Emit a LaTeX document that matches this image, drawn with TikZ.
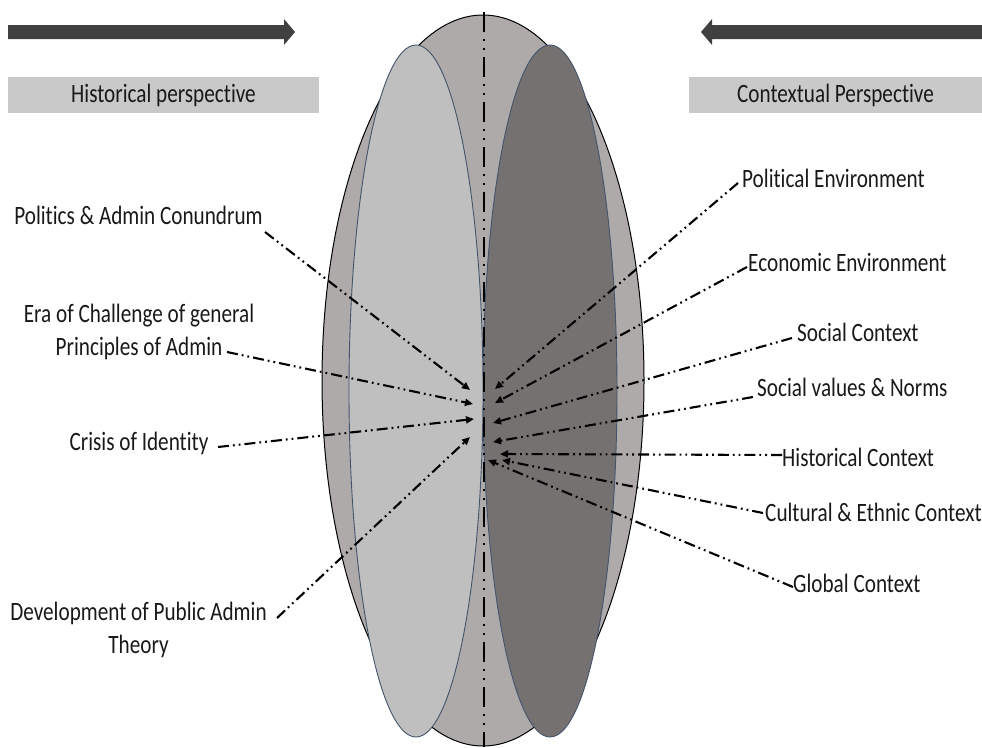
\documentclass[tikz,border=0pt]{standalone}
\usepackage{fontspec}
\setmainfont{Carlito}[FakeStretch=0.8, Ligatures=NoCommon]
\usetikzlibrary{arrows.meta,calc}
\definecolor{outerg}{HTML}{AEAAAA}
\definecolor{lightg}{HTML}{BFBFBF}
\definecolor{darkg}{HTML}{767171}
\definecolor{edgeb}{HTML}{44546A}
\definecolor{boxg}{HTML}{C9C9C9}
\definecolor{arrg}{HTML}{404040}
\begin{document}
\begin{tikzpicture}[x=1pt,y=-1pt,
  lbl/.style={font=\fontsize{26.5}{33}\selectfont, inner sep=1pt, align=center, text=black!90},
  pbox/.style={fill=boxg, minimum height=36pt, inner sep=0pt, font=\fontsize{26.5}{30}\selectfont, text=black!90},
  ddline/.style={line width=2.1pt, dash pattern=on 11pt off 4pt on 1.8pt off 4pt on 1.8pt off 4pt,
    -{Triangle[length=8pt,width=7pt]}},
  bigarrow/.style={fill=arrg, draw=none},
  ]
\useasboundingbox (0,0) rectangle (982,747);

% perspective arrows
\fill[bigarrow] (8,25) -- (284,25) -- (284,19) -- (295,32) -- (284,45) -- (284,39) -- (8,39) -- cycle;
\fill[bigarrow] (982,25) -- (712,25) -- (712,19) -- (701,32) -- (712,45) -- (712,39) -- (982,39) -- cycle;

% perspective boxes
\node[pbox, minimum width=311pt] (hp) at (163.5,95) {Historical perspective};
\node[pbox, minimum width=293pt] (cp) at (835.5,95) {Contextual Perspective};

% ellipses
\fill[outerg, draw=black, line width=1pt] (483,380.5) ellipse [x radius=161pt, y radius=365.5pt];
\fill[darkg, draw=edgeb, line width=0.9pt] (550,391) ellipse [x radius=67pt, y radius=346pt];
\fill[lightg, draw=edgeb, line width=0.9pt] (416,391) ellipse [x radius=67pt, y radius=346pt];

% centre line
\coordinate (ctop) at (484,12);
\coordinate (cbot) at (484,747);
\draw[line width=2pt, dash pattern=on 20pt off 7pt on 2pt off 7pt on 2pt off 7pt] (ctop) -- (cbot);

% left labels
\node[lbl] (pol) at (138.5,215) {Politics \& Admin Conundrum};
\node[lbl] (era) at (139,331.5) {Era of Challenge of general\\Principles of Admin};
\node[lbl] (cri) at (139,443) {Crisis of Identity};
\node[lbl] (dev) at (138.5,630) {Development of Public Admin\\Theory};

% right labels
\node[lbl, anchor=west] (pe) at (741,178) {Political Environment};
\node[lbl, anchor=west] (ee) at (747,262) {Economic Environment};
\node[lbl, anchor=west] (sc) at (796,332) {Social Context};
\node[lbl, anchor=west] (sv) at (756,387) {Social values \& Norms};
\node[lbl, anchor=west] (hc) at (781,457) {Historical Context};
\node[lbl, anchor=west] (cc) at (764,512) {Cultural \& Ethnic Context};
\node[lbl, anchor=west] (gc) at (792,583) {Global Context};

% arrow tip points
\coordinate (t1) at (470,390);
\coordinate (t2) at (473,404);
\coordinate (t3) at (474,419);
\coordinate (t4) at (470,437);
\coordinate (r1) at (495,389);
\coordinate (r2) at (495,403);
\coordinate (r3) at (493,423);
\coordinate (r4) at (493,442);
\coordinate (r5) at (500,454);
\coordinate (r6) at (502,460);
\coordinate (r7) at (488,460);

% connectors
\draw[ddline] ($(pol.center)+(126.5,17)$) -- (t1);
\draw[ddline] ($(era.center)+(88,20.5)$) -- (t2);
\draw[ddline] ($(cri.center)+(79,4)$) -- (t3);
\draw[ddline] ($(dev.center)+(138.5,-12)$) -- (t4);

\draw[ddline] ($(pe.west)+(-3,5)$) -- (r1);
\draw[ddline] ($(ee.west)+(0,5)$) -- (r2);
\draw[ddline] ($(sc.west)+(-4,6)$) -- (r3);
\draw[ddline] ($(sv.west)+(-3,10)$) -- (r4);
\draw[ddline] ($(hc.west)+(1,-2)$) -- (r5);
\draw[ddline] ($(cc.west)+(-1,1)$) -- (r6);
\draw[ddline] ($(gc.west)+(1,4)$) -- (r7);
\end{tikzpicture}
\end{document}
